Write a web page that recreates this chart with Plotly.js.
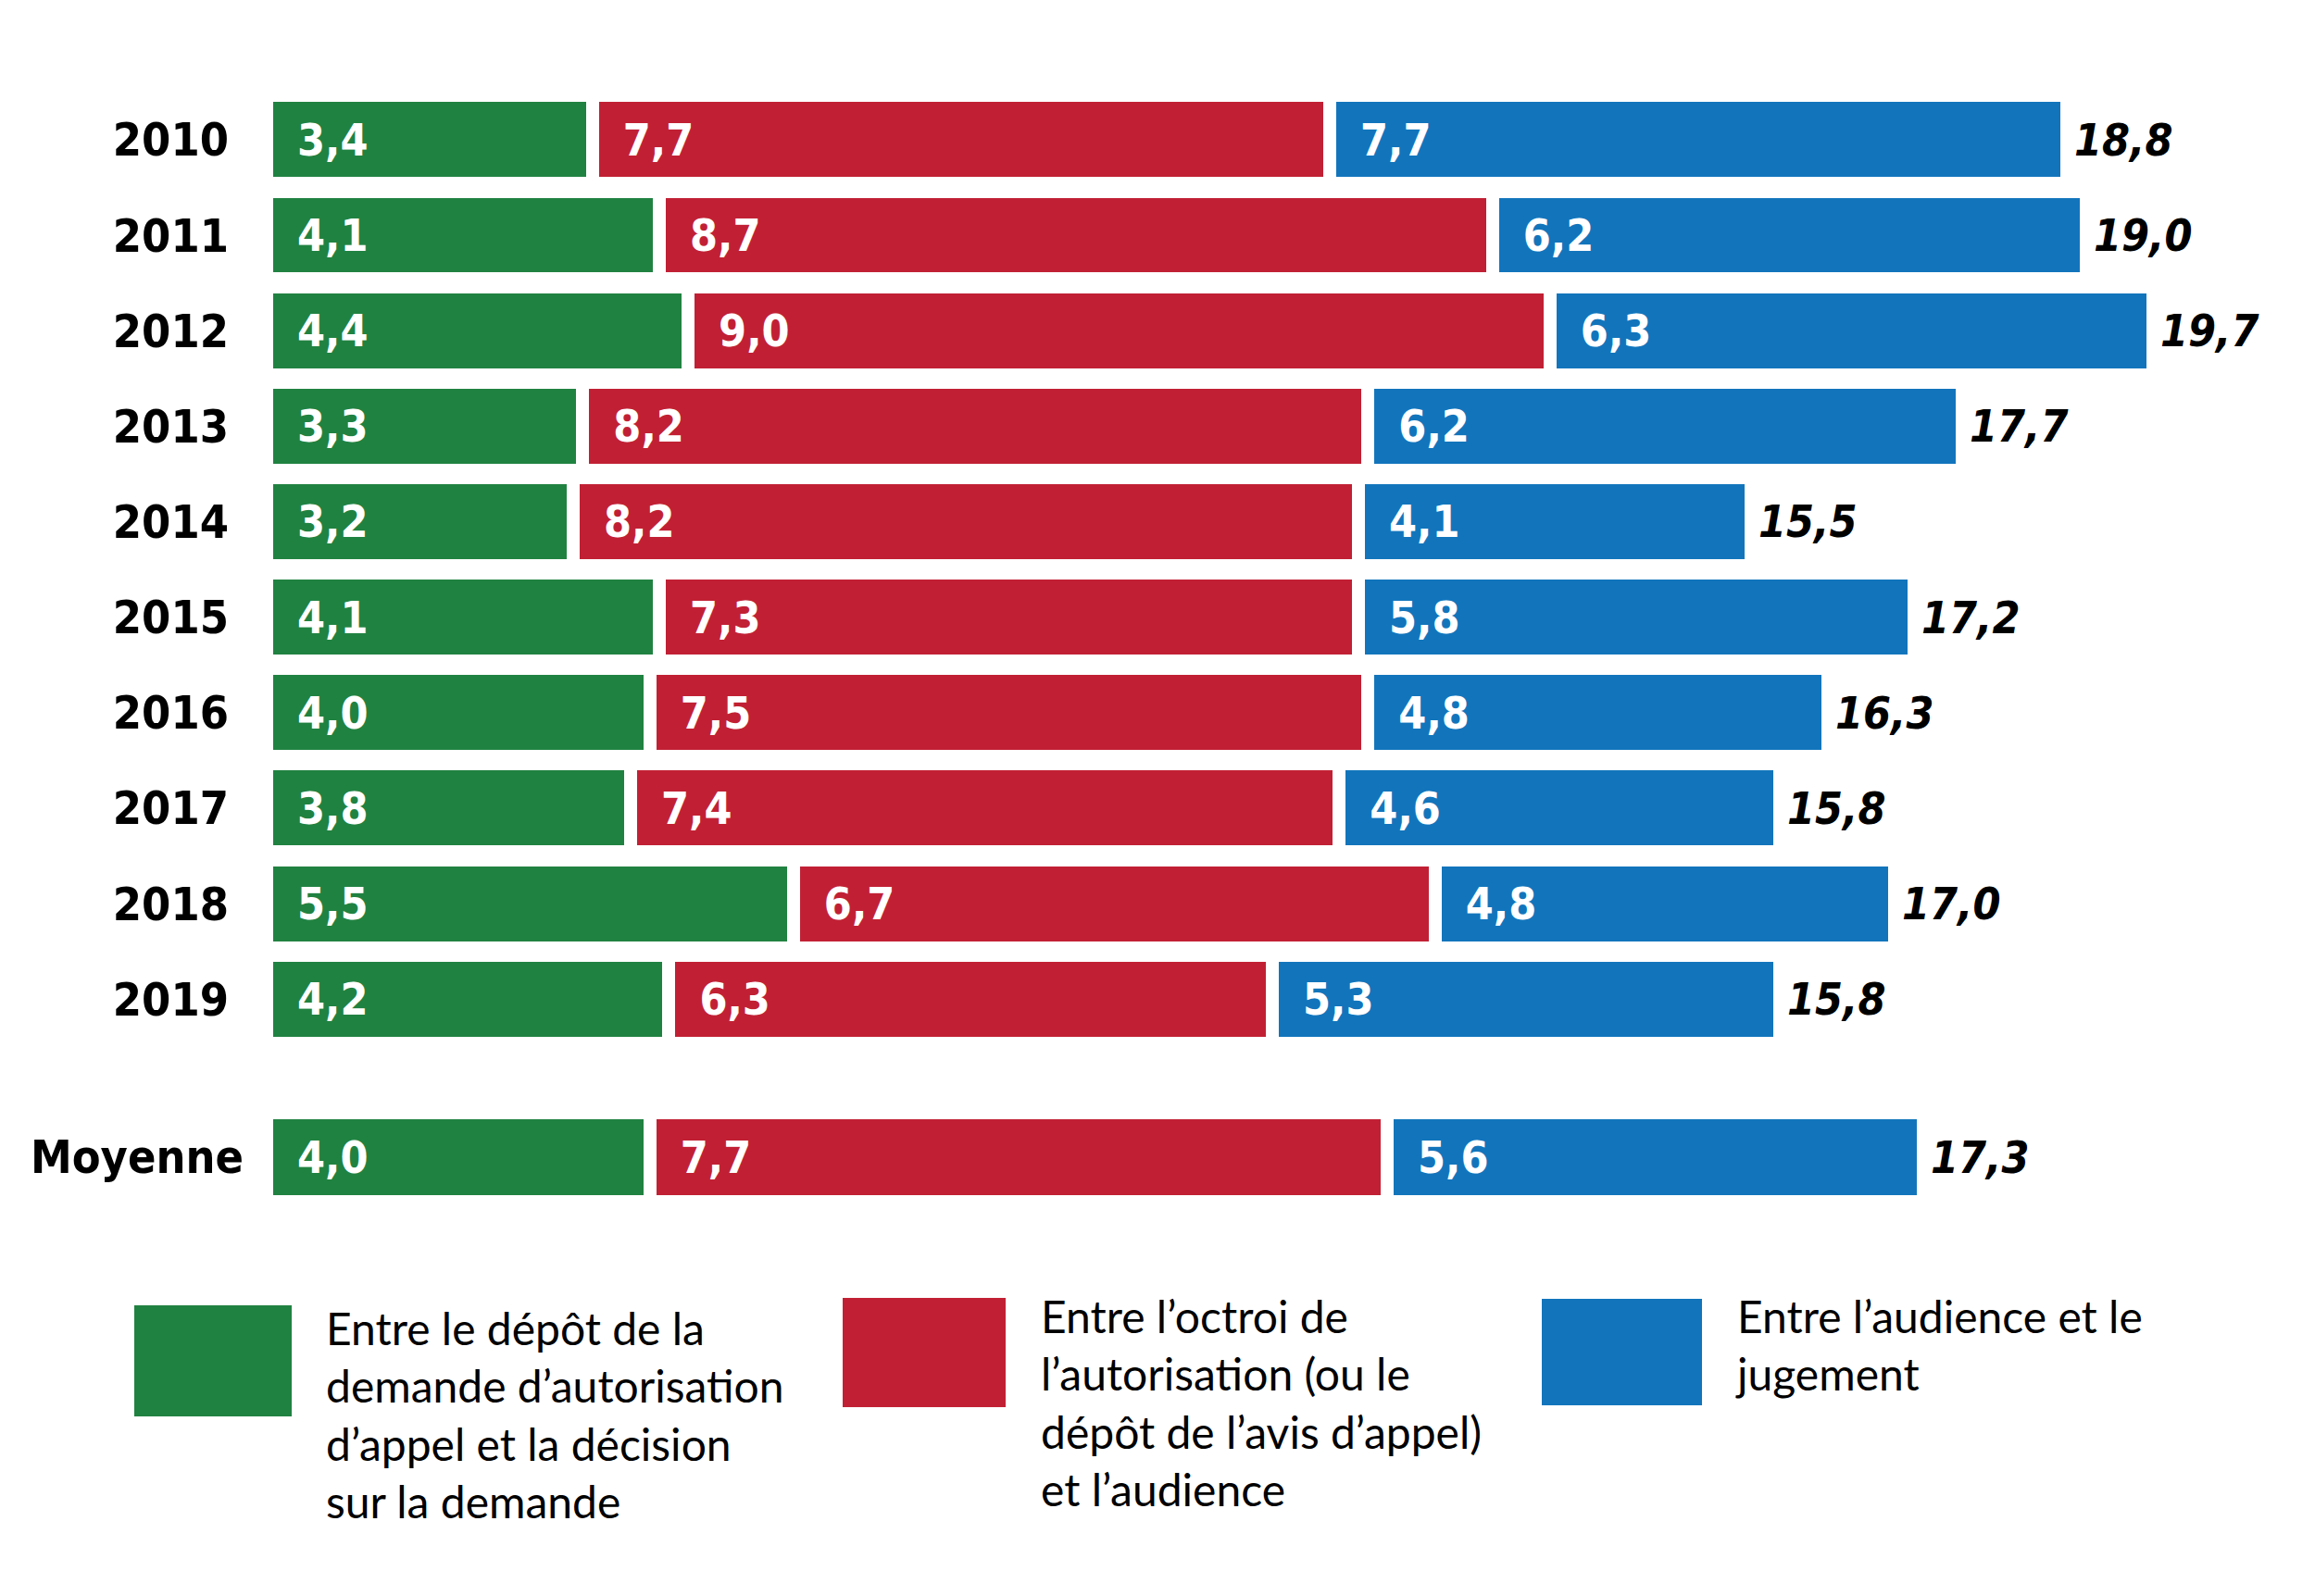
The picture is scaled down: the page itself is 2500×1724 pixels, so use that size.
<!DOCTYPE html>
<html>
<head>
<meta charset="utf-8">
<script src="https://cdn.plot.ly/plotly-3.0.1.min.js"></script>
<style>html,body{margin:0;padding:0;background:#fff;}#chart{width:2500px;height:1724px;}</style>
</head>
<body>
<div id="chart"></div>
<script>
// ---- Data ----
const categories = ['2010','2011','2012','2013','2014','2015','2016','2017','2018','2019'];
const seg1 = [3.4,4.1,4.4,3.3,3.2,4.1,4.0,3.8,5.5,4.2];
const seg2 = [7.7,8.7,9.0,8.2,8.2,7.3,7.5,7.4,6.7,6.3];
const seg3 = [7.7,6.2,6.3,6.2,4.1,5.8,4.8,4.6,4.8,5.3];
const totals = [18.8,19.0,19.7,17.7,15.5,17.2,16.3,15.8,17.0,15.8];
const avgCategory = ['Moyenne'];
const avgSeg1 = [4.0];
const avgSeg2 = [7.7];
const avgSeg3 = [5.6];
const avgTotal = [17.3];
const seriesNames = [
  'Entre le dépôt de la<br>demande d’autorisation<br>d’appel et la décision<br>sur la demande',
  'Entre l’octroi de<br>l’autorisation (ou le<br>dépôt de l’avis d’appel)<br>et l’audience',
  'Entre l’audience et le<br>jugement'
];
const colors = ['#208241','#c12034','#1275bc'];

// ---- Layout helpers ----
const W = 2500, H = 1724, ML = 288, MR = 34;
const PW = W - ML - MR;
const px = x => (x - ML) / PW;
const py = y => 1 - y / H;
const fmt = v => v.toFixed(1).replace('.', ',');
const NB = '\u00a0\u00a0';

const condensed = 'Liberation Sans Narrow, DejaVu Sans Condensed, Arial Narrow, sans-serif';
const labelFont = {family: condensed, size: 48, color: '#ffffff', weight: 700};

function barTrace(vals, cats, i, xa, ya) {
  return {
    type: 'bar', orientation: 'h', x: vals, y: cats,
    xaxis: xa, yaxis: ya,
    name: seriesNames[i],
    marker: {color: colors[i], line: {color: '#ffffff', width: 14}},
    text: vals.map(v => NB + fmt(v)),
    textposition: 'inside', insidetextanchor: 'start', textangle: 0,
    insidetextfont: labelFont,
    hoverinfo: 'skip'
  };
}

const data = [
  barTrace(seg1, categories, 0, 'x', 'y'),
  barTrace(seg2, categories, 1, 'x', 'y'),
  barTrace(seg3, categories, 2, 'x', 'y'),
  barTrace(avgSeg1, avgCategory, 0, 'x2', 'y2'),
  barTrace(avgSeg2, avgCategory, 1, 'x2', 'y2'),
  barTrace(avgSeg3, avgCategory, 2, 'x2', 'y2')
];

const totalFont = {family: condensed, size: 48, color: '#000000', weight: 700, style: 'italic'};
const annotations = [];
// category index used as y position (category names look numeric)
totals.forEach((t, i) => annotations.push({
  x: t, y: i, xref: 'x', yref: 'y', text: fmt(t), showarrow: false,
  xanchor: 'left', yanchor: 'middle', xshift: 6, font: totalFont
}));
avgTotal.forEach((t, i) => annotations.push({
  x: t, y: i, xref: 'x2', yref: 'y2', text: fmt(t), showarrow: false,
  xanchor: 'left', yanchor: 'middle', xshift: 6, font: totalFont
}));

// Legend (custom)
const legendFont = {family: 'Lato, Open Sans, sans-serif', size: 48, color: '#000000'};
const legendBoxes = [[145,315,1410,1530],[910,1086,1402,1520],[1665,1838,1403,1518]];
const legendText = [[350,1404],[1122,1391],[1872,1391]];
const shapes = legendBoxes.map((b, i) => ({
  type: 'rect', xref: 'paper', yref: 'paper',
  x0: px(b[0]), x1: px(b[1]), y0: py(b[3]), y1: py(b[2]),
  fillcolor: colors[i], line: {width: 0}
}));
legendText.forEach((p, i) => annotations.push({
  xref: 'paper', yref: 'paper', x: px(p[0]), y: py(p[1]),
  xanchor: 'left', yanchor: 'top', align: 'left', showarrow: false,
  text: seriesNames[i], font: legendFont
}));

const tickFont = {family: condensed, size: 50, color: '#000000', weight: 700};
const XMAX = 21.06;
const layout = {
  width: W, height: H,
  margin: {l: ML, r: MR, t: 0, b: 0},
  paper_bgcolor: '#ffffff', plot_bgcolor: '#ffffff',
  barmode: 'stack', bargap: 0.08, showlegend: false,
  xaxis: {domain: [0, 1], range: [0, XMAX], autorange: false, visible: false, anchor: 'y'},
  xaxis2: {domain: [0, 1], range: [0, XMAX], autorange: false, visible: false, anchor: 'y2'},
  yaxis: {domain: [0.3441, 0.9424], type: 'category', categoryorder: 'array', categoryarray: categories,
          range: [categories.length - 0.5, -0.5], autorange: false, anchor: 'x',
          showgrid: false, zeroline: false, showline: false, ticks: '',
          tickfont: tickFont, ticklabelstandoff: 40},
  yaxis2: {domain: [0.2448, 0.3051], type: 'category', range: [-0.5, 0.5], autorange: false, anchor: 'x2',
           showgrid: false, zeroline: false, showline: false, ticks: '',
           tickfont: tickFont, ticklabelstandoff: 24},
  shapes: shapes,
  annotations: annotations
};

Plotly.newPlot('chart', data, layout, {displayModeBar: false, staticPlot: true});
</script>
</body>
</html>
